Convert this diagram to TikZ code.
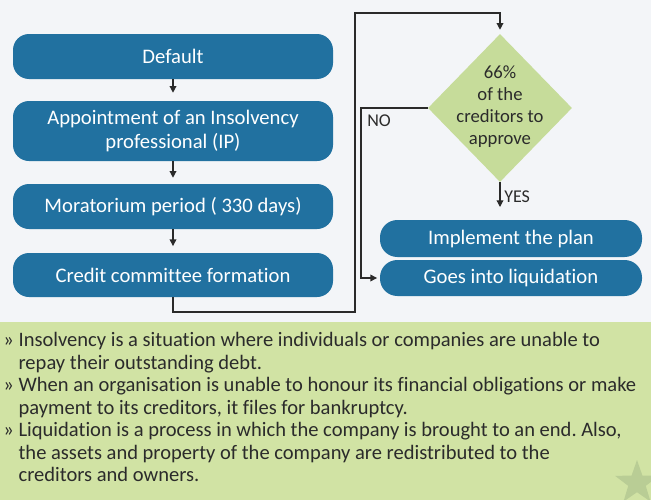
\documentclass[tikz,border=0pt]{standalone}
\usepackage{fontspec}
\setmainfont{Carlito}[Ligatures=NoCommon]
\usetikzlibrary{shapes.geometric,arrows.meta}
\frenchspacing
\definecolor{boxblue}{HTML}{2171A0}
\definecolor{leafgreen}{HTML}{C6DC9A}
\definecolor{panelgreen}{HTML}{D1E3A4}
\definecolor{stargreen}{HTML}{B9CD95}
\definecolor{pagebg}{HTML}{F3F5F8}
\definecolor{inktext}{HTML}{2B2B2B}
\definecolor{linegray}{HTML}{2A2A2A}
\tikzset{
  stepbox/.style={draw=none, fill=boxblue, text=white, rounded corners=12pt,
    minimum width=240pt, inner sep=2pt, align=center,
    font=\fontsize{15.5}{18.5}\selectfont},
  endbox/.style={draw=none, fill=boxblue, text=white, rounded corners=13pt,
    minimum width=196.5pt, inner sep=2pt, align=center,
    font=\fontsize{15.5}{18.5}\selectfont},
  flow/.style={draw=linegray, line width=0.9pt,
    -{Triangle[length=5pt,width=5pt]}},
  tag/.style={text=inktext, inner sep=0pt, font=\fontsize{13.5}{16}\selectfont},
}
\begin{document}
\begin{tikzpicture}[x=0.75pt,y=-0.75pt]
  % page and frame
  \useasboundingbox (0,0) rectangle (651,500);
  \clip (0,0) rectangle (651,500);
  \fill[pagebg] (0,0) rectangle (651,322);
  \fill[panelgreen] (0,322) rectangle (651,500);
  \node[star, star points=5, star point ratio=2.5, fill=stargreen,
        minimum size=34.5pt, inner sep=0pt] (deco) at (637,483) {};

  % left column of steps
  \node[stepbox, minimum height=33.75pt] (def) at (173,56.5) {Default};
  \node[stepbox, minimum height=45pt] (ip) at (173,131)
    {Appointment of an Insolvency\\professional (IP)};
  \node[stepbox, minimum height=33.75pt] (mor) at (173,206.5)
    {Moratorium period ( 330 days)};
  \node[stepbox, minimum height=33pt] (cc) at (173,275)
    {Credit committee formation};

  \draw[flow, shorten >=6pt] (def.south) -- (ip.north);
  \draw[flow, shorten >=4.5pt] (ip.south) -- (mor.north);
  \draw[flow, shorten >=5pt] (mor.south) -- (cc.north);

  % decision
  \node[diamond, fill=leafgreen, minimum width=108pt, minimum height=111pt,
        inner sep=0pt] (vote) at (500,108) {};
  \node[text=inktext, align=center, font=\fontsize{14}{16.5}\selectfont]
    (votetext) at (500,107) {66\%\\of the\\creditors to\\approve};

  % outcomes
  \node[endbox, minimum height=27.75pt] (plan) at (511,238.5)
    {Implement the plan};
  \node[endbox, minimum height=27pt] (liq) at (511,278)
    {Goes into liquidation};

  % connectors on the right
  \coordinate (low) at (355,312);
  \coordinate (high) at (355,13);
  \draw[flow, shorten >=3pt] (cc.south) |- (low) -- (high) -| (vote.north);

  \coordinate (nobend) at (361,108);
  \draw[flow, shorten >=2pt] (vote.west) -- (nobend) |- (liq.west);
  \node[tag, anchor=west] (no) at (367,121) {NO};

  \coordinate (yesend) at (500,207);
  \draw[flow] (vote.south) -- (yesend);
  \node[tag, anchor=west] (yes) at (504,197) {YES};

  % notes
  \node[anchor=north west, align=left, inner sep=0pt, text=inktext,
        font=\fontsize{15.4}{16.9}\selectfont] (notes) at (3,332) {%
    \makebox[11.5pt][l]{»}Insolvency is a situation where individuals or companies are unable to\\
    \hspace*{11.5pt}repay their outstanding debt.\\
    \makebox[11.5pt][l]{»}When an organisation is unable to honour its financial obligations or make\\
    \hspace*{11.5pt}payment to its creditors, it files for bankruptcy.\\
    \makebox[11.5pt][l]{»}Liquidation is a process in which the company is brought to an end. Also,\\
    \hspace*{11.5pt}the assets and property of the company are redistributed to the\\
    \hspace*{11.5pt}creditors and owners.};
\end{tikzpicture}
\end{document}
